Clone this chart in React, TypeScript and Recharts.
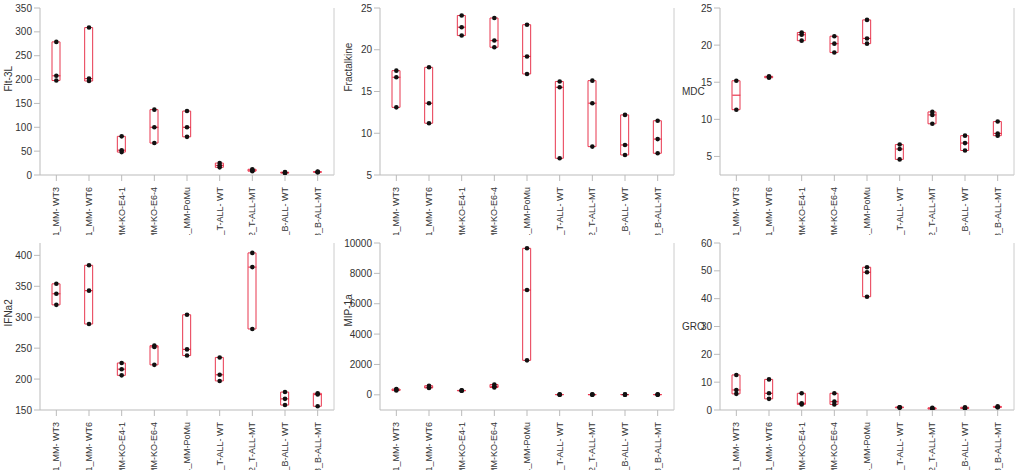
import React from "react";
import { ComposedChart, Bar, Line, XAxis, YAxis } from "recharts";

const categories = [
  "1_MM- WT3", "1_MM- WT6", "1_MM-KO-E4-1", "1_MM-KO-E6-4", "1_MM-PoMu",
  "2_T-ALL- WT", "2_T-ALL-MT", "3_B-ALL- WT", "3_B-ALL-MT",
];

const flt3l = [[198, 208, 279], [197, 202, 309], [48, 52, 81], [67, 100, 137], [80, 100, 134], [16, 20, 25], [8, 10, 12], [4, 5, 6], [6, 6, 7]];
const fractalkine = [[13.1, 16.7, 17.5], [11.2, 13.6, 17.9], [21.7, 22.7, 24.1], [20.3, 21.1, 23.8], [17.1, 19.2, 23.0], [7.0, 15.5, 16.2], [8.4, 13.6, 16.3], [7.4, 8.6, 12.2], [7.6, 9.3, 11.5]];
const mdc = [[11.3, 15.2], [15.6, 15.7, 15.8], [20.6, 21.4, 21.7], [19.0, 20.2, 21.2], [20.2, 20.9, 23.4], [4.6, 6.0, 6.6], [9.4, 10.6, 11.0], [5.8, 6.8, 7.8], [7.8, 8.1, 9.7]];
const ifna2 = [[320, 338, 354], [289, 343, 384], [206, 216, 226], [223, 252, 254], [238, 248, 304], [197, 207, 235], [281, 381, 404], [158, 168, 179], [156, 175, 177]];
const mip1a = [[280, 330, 380], [450, 500, 600], [270, 280, 290], [480, 560, 680], [2270, 6900, 9650], [10, 15, 20], [10, 15, 20], [10, 15, 20], [10, 15, 20]];
const gro = [[5.8, 7.2, 12.6], [4.0, 6.0, 11.0], [2.0, 2.4, 6.0], [2.0, 3.0, 6.0], [40.7, 49.5, 51.3], [0.8, 1.0, 1.0], [0.3, 0.5, 0.8], [0.5, 0.7, 1.0], [1.0, 1.0, 1.3]];

const RED = "#e8374f";
const FONT = "Liberation Sans, Arial, sans-serif";

function median(v: number[]) {
  const s = [...v].sort((a, b) => a - b);
  const m = Math.floor(s.length / 2);
  return s.length % 2 ? s[m] : (s[m - 1] + s[m]) / 2;
}

function build(values: number[][]) {
  return categories.map((cat, i) => {
    const v = values[i];
    return {
      cat,
      range: [Math.min(...v), Math.max(...v)],
      med: median(v),
      p1: v[0] ?? null,
      p2: v[1] ?? null,
      p3: v[2] ?? null,
    };
  });
}

const XTick = (props: any) => {
  const { x, y, payload } = props;
  return (
    <text
      transform={`translate(${x + 3},${y + 4}) rotate(-90)`}
      textAnchor="end"
      fontSize={9}
      fontFamily={FONT}
      fill="#333"
    >
      {payload.value}
    </text>
  );
};

const MedTick = (props: any) => {
  const { cx, cy } = props;
  if (cx == null || cy == null) return null;
  return <line x1={cx - 4} x2={cx + 4} y1={cy} y2={cy} stroke={RED} strokeWidth={1.2} />;
};

interface PanelProps {
  values: number[][];
  label: string;
  domain: [number, number];
  ticks: number[];
  horizontalLabel?: boolean;
}

function Panel({ values, label, domain, ticks, horizontalLabel }: PanelProps) {
  const data = build(values);
  return (
    <ComposedChart
      width={340}
      height={235}
      data={data}
      margin={{ top: 8, right: 5, left: 0, bottom: 0 }}
      style={{ overflow: "visible" }}
    >
      <XAxis
        dataKey="cat"
        interval={0}
        height={60}
        tick={<XTick />}
        stroke="#bbb"
        tickLine={{ stroke: "#bbb" }}
      />
      <XAxis xAxisId="top" dataKey="cat" orientation="top" tick={false} tickLine={false} height={0} stroke="#ccc" />
      <YAxis
        domain={domain}
        ticks={ticks}
        type="number"
        allowDataOverflow
        width={40}
        stroke="#bbb"
        tick={{ fontSize: 10, fill: "#333", fontFamily: FONT }}
        label={
          horizontalLabel
            ? { value: label, angle: 0, position: "insideLeft", offset: 2, fontSize: 10, fill: "#333", fontFamily: FONT }
            : { value: label, angle: -90, position: "insideLeft", offset: 8, fontSize: 10, fill: "#333", fontFamily: FONT }
        }
      />
      <YAxis yAxisId="right" orientation="right" tick={false} tickLine={false} width={1} stroke="#ccc" />
      <Bar dataKey="range" barSize={8} fill="none" stroke={RED} strokeWidth={1} isAnimationActive={false} />
      <Line dataKey="med" stroke="none" dot={<MedTick />} activeDot={false} isAnimationActive={false} />
      {["p1", "p2", "p3"].map((k) => (
        <Line
          key={k}
          dataKey={k}
          stroke="none"
          dot={{ r: 2.3, fill: "#111", stroke: "none" }}
          activeDot={false}
          isAnimationActive={false}
        />
      ))}
    </ComposedChart>
  );
}

export default function App() {
  return (
    <div style={{ position: "absolute", left: 0, top: 0, width: 1024, height: 470, background: "#fff" }}>
      <div style={{ display: "flex", position: "relative", zIndex: 1 }}>
        <Panel values={flt3l} label="Flt-3L" domain={[0, 350]} ticks={[0, 50, 100, 150, 200, 250, 300, 350]} />
        <Panel values={fractalkine} label="Fractalkine" domain={[5, 25]} ticks={[5, 10, 15, 20, 25]} />
        <Panel values={mdc} label="MDC" domain={[2.5, 25]} ticks={[5, 10, 15, 20, 25]} horizontalLabel />
      </div>
      <div style={{ display: "flex" }}>
        <Panel values={ifna2} label="IFNa2" domain={[150, 420]} ticks={[150, 200, 250, 300, 350, 400]} />
        <Panel values={mip1a} label="MIP-1a" domain={[-1000, 10000]} ticks={[0, 2000, 4000, 6000, 8000, 10000]} />
        <Panel values={gro} label="GRO" domain={[0, 60]} ticks={[0, 10, 20, 30, 40, 50, 60]} horizontalLabel />
      </div>
    </div>
  );
}
